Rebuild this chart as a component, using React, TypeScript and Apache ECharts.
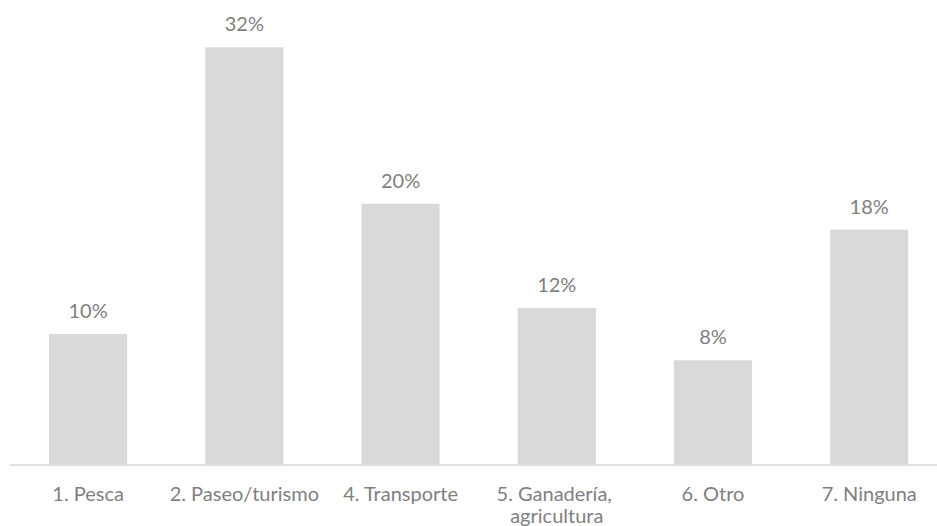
import React, { useEffect, useRef } from "react";
import * as echarts from "echarts";

const categories = [
  "1. Pesca",
  "2. Paseo/turismo",
  "4. Transporte",
  "5. Ganadería, agricultura",
  "6. Otro",
  "7. Ninguna",
];
const values = [10, 32, 20, 12, 8, 18];

export default function App() {
  const ref = useRef<HTMLDivElement>(null);
  useEffect(() => {
    if (!ref.current) return;
    const chart = echarts.init(ref.current, null, { renderer: "svg" });
    chart.setOption({
      animation: false,
      grid: { left: 10, right: 0, top: 8, bottom: 61.5, containLabel: false },
      xAxis: {
        type: "category",
        data: categories,
        axisLine: { lineStyle: { color: "#d9d9d9", width: 1.5 } },
        axisTick: { show: false },
        axisLabel: {
          interval: 0,
          color: "#7f7f7f",
          fontFamily: "Lato, 'Open Sans', sans-serif",
          fontSize: 20,
          margin: 17,
          width: 156,
          overflow: "break",
          lineHeight: 22,
        },
      },
      yAxis: {
        type: "value",
        min: 0,
        max: 35,
        show: false,
        splitLine: { show: false },
      },
      series: [
        {
          type: "bar",
          data: values,
          barWidth: "50%",
          itemStyle: { color: "#d9d9d9" },
          label: {
            show: true,
            position: "top",
            distance: 14,
            formatter: "{c}%",
            color: "#7f7f7f",
            fontFamily: "Lato, 'Open Sans', sans-serif",
            fontSize: 20,
          },
        },
      ],
    });
    return () => chart.dispose();
  }, []);
  return (
    <div
      style={{ position: "absolute", left: 0, top: 0, width: 937, height: 526, overflow: "hidden" }}
    >
      <div ref={ref} style={{ width: 950, height: 526 }} />
    </div>
  );
}
